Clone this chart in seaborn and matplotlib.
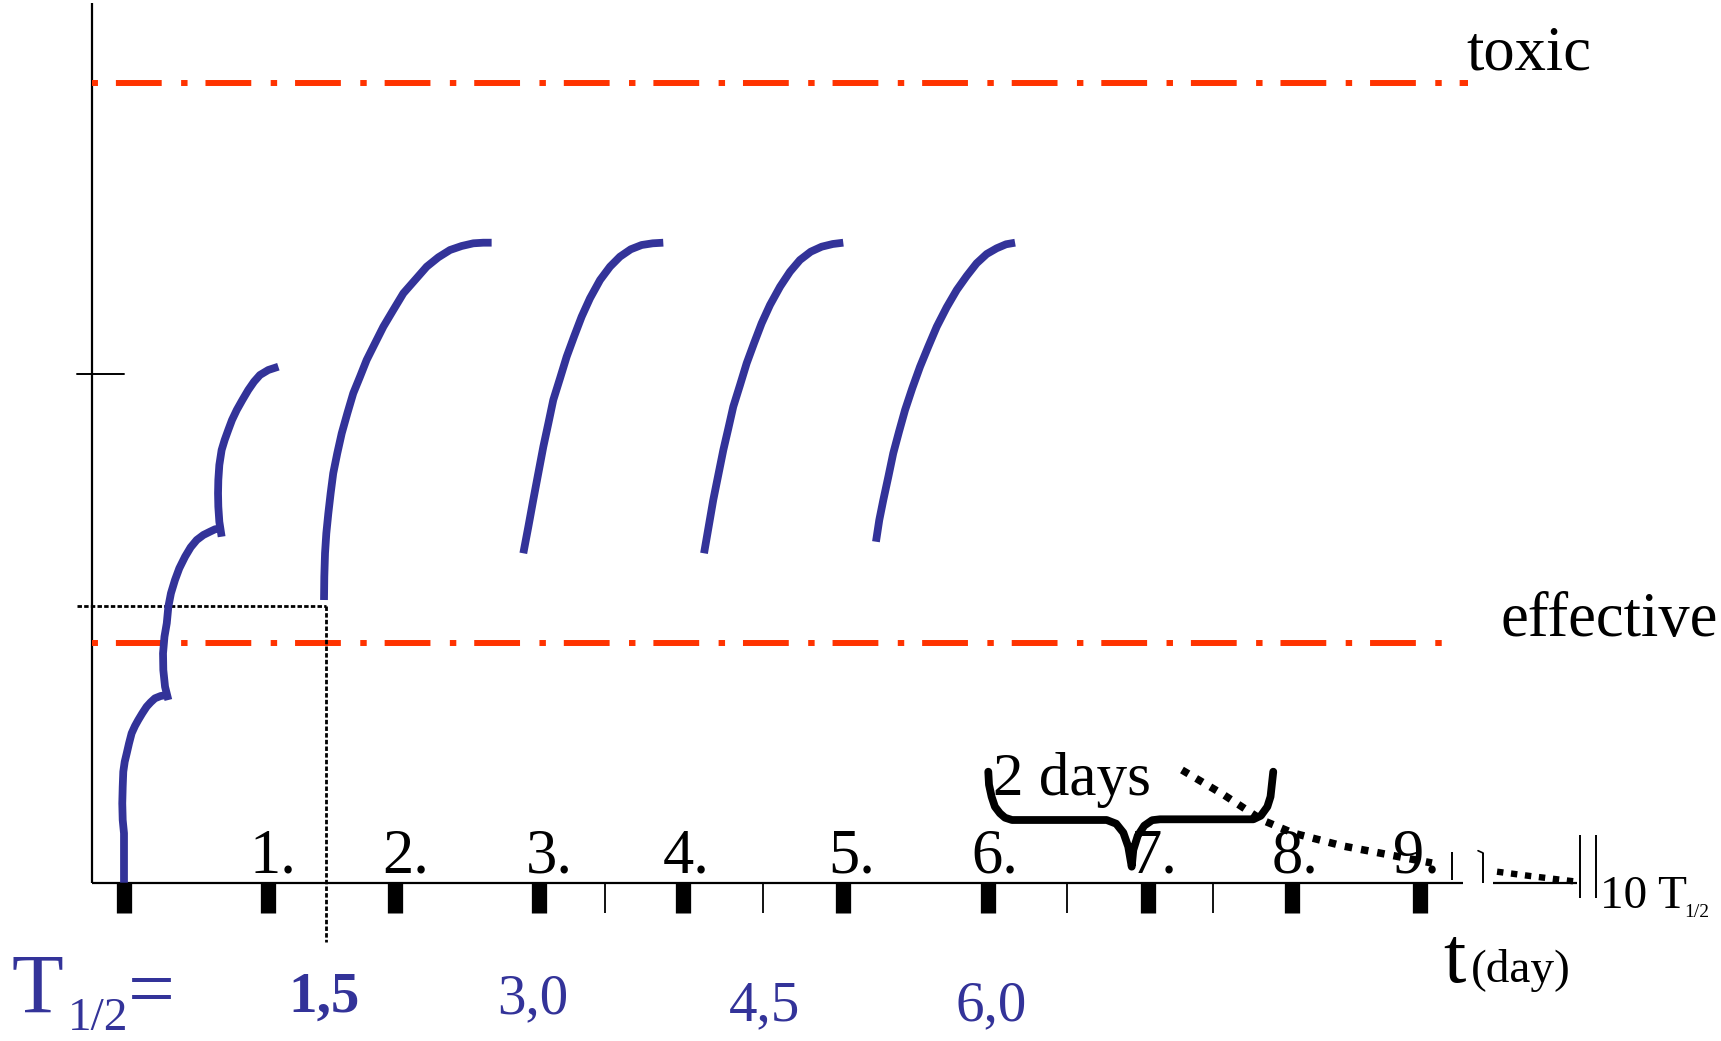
import matplotlib
matplotlib.use("Agg")
import matplotlib.pyplot as plt
import numpy as np
import pandas as pd
import seaborn as sns

# ---- data (x in days, y in concentration units) ----
# rising phase after each dose
dose_day = [
    [0.0, 0.0, -0.009, -0.012, -0.009, -0.005, 0.005, 0.019, 0.035, 0.053, 0.076,
     0.099, 0.127, 0.157, 0.185, 0.215, 0.255, 0.296],
    [0.308, 0.285, 0.273, 0.271, 0.281, 0.297, 0.308, 0.326, 0.354, 0.384, 0.424,
     0.463, 0.505, 0.551, 0.597, 0.632, 0.674],
    [0.678, 0.662, 0.655, 0.653, 0.655, 0.662, 0.678, 0.699, 0.724, 0.750, 0.783,
     0.822, 0.863, 0.903, 0.944, 1.002, 1.072],
    [1.389, 1.391, 1.396, 1.405, 1.419, 1.435, 1.453, 1.481, 1.512, 1.551, 1.592,
     1.639, 1.685, 1.743, 1.801, 1.870, 1.940, 2.021, 2.102, 2.183, 2.264, 2.345,
     2.426, 2.495, 2.553],
    [2.773, 2.808, 2.842, 2.877, 2.912, 2.947, 2.981, 3.028, 3.074, 3.125, 3.178,
     3.236, 3.306, 3.375, 3.444, 3.519, 3.595, 3.672, 3.745],
    [4.028, 4.060, 4.092, 4.127, 4.162, 4.197, 4.231, 4.278, 4.324, 4.375, 4.428,
     4.486, 4.556, 4.625, 4.694, 4.769, 4.845, 4.922, 4.995],
    [5.222, 5.245, 5.273, 5.308, 5.342, 5.382, 5.424, 5.474, 5.528, 5.585, 5.644,
     5.713, 5.783, 5.852, 5.921, 5.991, 6.060, 6.125, 6.188],
]
dose_conc = [
    [0.0, 0.494, 0.627, 0.794, 0.96, 1.11, 1.21, 1.294, 1.394, 1.494, 1.567,
     1.627, 1.694, 1.76, 1.804, 1.844, 1.867, 1.877],
    [1.827, 1.96, 2.127, 2.294, 2.46, 2.594, 2.76, 2.894, 3.027, 3.144, 3.26,
     3.354, 3.427, 3.477, 3.51, 3.534, 3.544],
    [3.46, 3.61, 3.76, 3.894, 4.027, 4.177, 4.327, 4.427, 4.527, 4.627, 4.727,
     4.827, 4.927, 5.01, 5.077, 5.127, 5.16],
    [2.827, 3.06, 3.294, 3.494, 3.694, 3.894, 4.094, 4.294, 4.494, 4.694, 4.894,
     5.06, 5.227, 5.394, 5.56, 5.727, 5.894, 6.027, 6.16, 6.254, 6.327, 6.367,
     6.394, 6.40, 6.40],
    [3.294, 3.56, 3.827, 4.094, 4.36, 4.594, 4.827, 5.044, 5.26, 5.46, 5.66,
     5.844, 6.027, 6.16, 6.26, 6.334, 6.377, 6.394, 6.40],
    [3.294, 3.56, 3.827, 4.077, 4.327, 4.544, 4.76, 4.977, 5.194, 5.394, 5.594,
     5.777, 5.96, 6.11, 6.227, 6.31, 6.36, 6.387, 6.40],
    [3.41, 3.627, 3.827, 4.06, 4.294, 4.51, 4.727, 4.944, 5.16, 5.36, 5.56,
     5.754, 5.927, 6.067, 6.194, 6.287, 6.344, 6.384, 6.40],
]

# elimination tail
tail_day = [7.347, 7.639, 7.903, 8.118, 8.465, 8.792, 9.083]
tail_conc = [1.127, 0.877, 0.627, 0.497, 0.367, 0.277, 0.197]
tail2_day = [9.535, 9.764, 10.09]
tail2_conc = [0.11, 0.067, 0.01]

toxic_level = 8.0
effective_level = 2.4
y_tick_level = 5.09
steady_day = 1.403
steady_conc = 2.77

day_ticks = [0.0, 1.0, 1.88, 2.88, 3.88, 4.99, 6.0, 7.11, 8.11, 9.0]
half_ticks = [3.34, 4.44, 6.55, 7.56]
day_labels = ["1.", "2.", "3.", "4.", "5.", "6.", "7.", "8.", "9."]
day_label_x = [1.035, 1.958, 2.951, 3.903, 5.056, 6.049, 7.153, 8.132, 8.972]

half_life_labels = ["1,5", "3,0", "4,5", "6,0"]
half_life_x = [1.389, 2.84, 4.45, 6.02]
half_life_y = [-1.293, -1.31, -1.38, -1.38]

brace_day = [6.002, 6.007, 6.025, 6.048, 6.083, 6.118, 6.167, 6.824, 6.890, 6.940,
             6.974, 6.998, 7.009, 7.040, 7.085, 7.140, 7.194, 7.843, 7.895, 7.940,
             7.962, 7.981]
brace_conc = [1.11, 0.98, 0.86, 0.76, 0.694, 0.65, 0.627, 0.627, 0.59, 0.50,
              0.36, 0.16, 0.327, 0.47, 0.57, 0.625, 0.634, 0.634, 0.67, 0.76,
              0.86, 1.11]

BLUE = "#333399"
RED = "#FF3300"
BLACK = "#000000"

sns.set_theme(style="white")
plt.rcParams["font.family"] = ["Liberation Serif", "DejaVu Serif"]

fig = plt.figure(figsize=(17.21, 10.41), dpi=100)
ax = fig.add_axes([0, 0, 1, 1])

# axes frame
ax.plot([-0.222, -0.222], [0.0, 8.80], color=BLACK, lw=1.6, solid_capstyle="butt")
ax.plot([-0.222, 9.299], [0.0, 0.0], color=BLACK, lw=1.6, solid_capstyle="butt")
ax.plot([9.507, 10.09], [0.0, 0.0], color=BLACK, lw=1.6, solid_capstyle="butt")
ax.plot([-0.326, 0.0], [y_tick_level, y_tick_level], color=BLACK, lw=1.4)
for xv, y0, y1 in [(9.222, 0.307, 0.027), (9.438, 0.297, 0.0),
                   (10.111, 0.477, -0.153), (10.222, 0.477, -0.153)]:
    ax.plot([xv, xv], [y0, y1], color=BLACK, lw=1.4, solid_capstyle="butt")
ax.plot([9.403, 9.438], [0.32, 0.297], color=BLACK, lw=1.2)

# day ticks
ax.vlines(day_ticks, -0.30, 0.0, color=BLACK, lw=11.0)
ax.vlines(half_ticks, -0.30, 0.0, color=BLACK, lw=1.3)
for lab, xv in zip(day_labels, day_label_x):
    ax.text(xv, 0.10, lab, fontsize=45, ha="center", va="baseline", color=BLACK)

# therapeutic window limits
dash = (11.0, (7.67, 3.25, 1.08, 3.0))
ax.plot([-0.222, 9.333], [toxic_level, toxic_level], color=RED, lw=4.3,
        linestyle=dash, dash_capstyle="butt")
ax.plot([-0.222, 9.201], [effective_level, effective_level], color=RED, lw=4.3,
        linestyle=dash, dash_capstyle="butt")
ax.text(9.32, 8.127, "toxic", fontsize=45, ha="left", va="baseline", color=BLACK)
ax.text(9.556, 2.467, "effective", fontsize=45, ha="left", va="baseline", color=BLACK)

# first effective point guides
ax.plot([-0.326, steady_day], [steady_conc, steady_conc], color=BLACK, lw=2.0,
        linestyle=(0, (1.6, 0.8)))
ax.plot([steady_day, steady_day], [steady_conc, -0.593], color=BLACK, lw=2.0,
        linestyle=(0, (1.6, 0.8)))

# concentration curves
rows = []
for k, (xs, ys) in enumerate(zip(dose_day, dose_conc)):
    for xv, yv in zip(xs, ys):
        rows.append({"day": xv, "conc": yv, "dose": k})
df = pd.DataFrame(rows)
sns.lineplot(data=df, x="day", y="conc", units="dose", estimator=None, sort=False,
             color=BLUE, linewidth=5.6, solid_capstyle="butt",
             solid_joinstyle="round", legend=False, ax=ax)

# elimination tail
ax.plot(tail_day, tail_conc, color=BLACK, lw=5.4, linestyle=(0, (1, 1.2)),
        dash_capstyle="butt")
ax.plot(tail2_day, tail2_conc, color=BLACK, lw=4.6, linestyle=(0, (1, 1.2)),
        dash_capstyle="butt")

# dosing interval brace
ax.plot(brace_day, brace_conc, color=BLACK, lw=5.6, solid_joinstyle="round",
        solid_capstyle="round")
ax.text(6.035, 0.877, "2 days", fontsize=44, ha="left", va="baseline", color=BLACK)

# half-life annotations
ax.text(-0.778, -1.30, "T", fontsize=61, ha="left", va="baseline", color=BLUE)
ax.text(-0.389, -1.47, "1/2", fontsize=34, ha="left", va="baseline", color=BLUE)
ax.text(0.028, -1.33, "=", fontsize=60, ha="left", va="baseline", color=BLUE)
for lab, xv, yv in zip(half_life_labels, half_life_x, half_life_y):
    ax.text(xv, yv, lab, fontsize=41, ha="center", va="baseline", color=BLUE,
            fontweight="bold" if lab == "1,5" else "normal")

# time axis label
ax.text(9.16, -0.99, "t", fontsize=58, ha="left", va="baseline", color=BLACK)
ax.text(9.354, -0.99, "(day)", fontsize=34, ha="left", va="baseline", color=BLACK)
ax.text(10.25, -0.253, "10 T", fontsize=34, ha="left", va="baseline", color=BLACK)
ax.text(10.833, -0.343, "1/2", fontsize=14, ha="left", va="baseline", color=BLACK)

ax.set_xlim(-0.8611, 11.0903)
ax.set_ylim(-1.583, 8.827)
ax.axis("off")

fig.savefig("out.png", dpi=100)
